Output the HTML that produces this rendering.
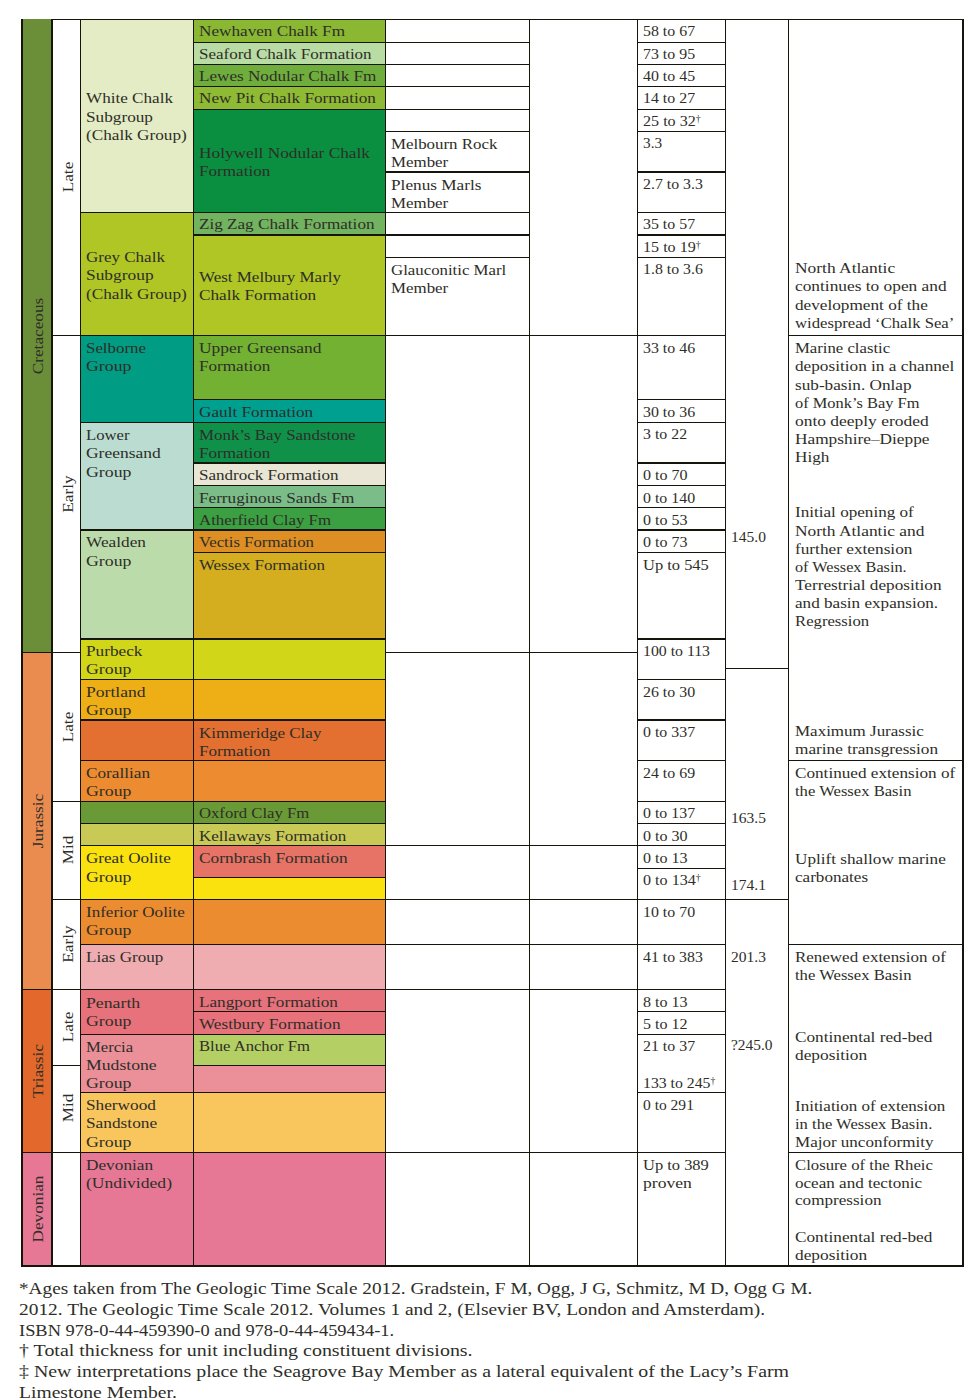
<!DOCTYPE html>
<html lang="en"><head><meta charset="utf-8"><title>Stratigraphy of the Wessex Basin</title>
<style>
html,body{margin:0;padding:0;background:#fff}
body{width:980px;height:1400px;position:relative;overflow:hidden;font-family:"Liberation Serif",serif;color:#2e2e28}
.t{font-size:15.5px;position:absolute;white-space:nowrap;transform-origin:0 0;margin:0;line-height:20px}
.r{font-size:15.5px;position:absolute;white-space:nowrap;line-height:1;transform-origin:50% 50%}
sup{font-size:62%;vertical-align:baseline;position:relative;top:-0.45em;line-height:0}
</style></head><body>
<svg width="980" height="1400" viewBox="0 0 980 1400" shape-rendering="crispEdges" style="position:absolute;left:0;top:0">
<rect x="23" y="19" width="28" height="633" fill="#6b8e39"/>
<rect x="23" y="652" width="28" height="337" fill="#ea8c50"/>
<rect x="23" y="989" width="28" height="163" fill="#e2692b"/>
<rect x="23" y="1152" width="28" height="113" fill="#e67895"/>
<rect x="81" y="19" width="112" height="193" fill="#e3ecc4"/>
<rect x="81" y="212" width="112" height="123" fill="#afc625"/>
<rect x="81" y="335" width="112" height="87" fill="#009c83"/>
<rect x="81" y="422" width="112" height="107" fill="#badcd1"/>
<rect x="81" y="529" width="112" height="109" fill="#bcdbab"/>
<rect x="81" y="638" width="112" height="41" fill="#d2d618"/>
<rect x="81" y="679" width="112" height="40" fill="#eeaf16"/>
<rect x="81" y="719" width="112" height="41" fill="#e36f31"/>
<rect x="81" y="760" width="112" height="41" fill="#ec8b30"/>
<rect x="81" y="801" width="112" height="22" fill="#6a9a35"/>
<rect x="81" y="823" width="112" height="22" fill="#c9c956"/>
<rect x="81" y="845" width="112" height="54" fill="#f9e20e"/>
<rect x="81" y="899" width="112" height="45" fill="#ec8c30"/>
<rect x="81" y="944" width="112" height="45" fill="#efadb2"/>
<rect x="81" y="989" width="112" height="45" fill="#e7727b"/>
<rect x="81" y="1034" width="112" height="58" fill="#eb8f98"/>
<rect x="81" y="1092" width="112" height="60" fill="#f9c55d"/>
<rect x="81" y="1152" width="112" height="113" fill="#e67895"/>
<rect x="194" y="19" width="191" height="23" fill="#8ab833"/>
<rect x="194" y="42" width="191" height="22" fill="#b9dba4"/>
<rect x="194" y="64" width="191" height="22" fill="#6fae3d"/>
<rect x="194" y="86" width="191" height="23" fill="#8fbb34"/>
<rect x="194" y="109" width="191" height="103" fill="#0a8f40"/>
<rect x="194" y="212" width="191" height="22" fill="#72b360"/>
<rect x="194" y="234" width="191" height="101" fill="#afc625"/>
<rect x="194" y="335" width="191" height="64" fill="#72b132"/>
<rect x="194" y="399" width="191" height="23" fill="#00a091"/>
<rect x="194" y="422" width="191" height="40" fill="#0f914a"/>
<rect x="194" y="462" width="191" height="23" fill="#e9e6d5"/>
<rect x="194" y="485" width="191" height="22" fill="#7abd88"/>
<rect x="194" y="507" width="191" height="22" fill="#3ba041"/>
<rect x="194" y="529" width="191" height="23" fill="#de8f24"/>
<rect x="194" y="552" width="191" height="86" fill="#d4ae1f"/>
<rect x="194" y="638" width="191" height="41" fill="#d2d618"/>
<rect x="194" y="679" width="191" height="40" fill="#eeaf16"/>
<rect x="194" y="719" width="191" height="41" fill="#e36f31"/>
<rect x="194" y="760" width="191" height="41" fill="#ec8b30"/>
<rect x="194" y="801" width="191" height="22" fill="#6a9a35"/>
<rect x="194" y="823" width="191" height="22" fill="#c9c956"/>
<rect x="194" y="845" width="191" height="32" fill="#e67365"/>
<rect x="194" y="877" width="191" height="22" fill="#f9e20e"/>
<rect x="194" y="899" width="191" height="45" fill="#ec8c30"/>
<rect x="194" y="944" width="191" height="45" fill="#efadb2"/>
<rect x="194" y="989" width="191" height="22" fill="#e7727b"/>
<rect x="194" y="1011" width="191" height="23" fill="#e7727b"/>
<rect x="194" y="1034" width="191" height="31" fill="#b4cf63"/>
<rect x="194" y="1065" width="191" height="27" fill="#eb8f98"/>
<rect x="194" y="1092" width="191" height="60" fill="#f9c55d"/>
<rect x="194" y="1152" width="191" height="113" fill="#e67895"/>
<g fill="#15150c">
<rect x="21" y="652" width="32" height="1"/>
<rect x="21" y="989" width="32" height="1"/>
<rect x="21" y="1152" width="32" height="1"/>
<rect x="51" y="335" width="30" height="1"/>
<rect x="51" y="652" width="30" height="1"/>
<rect x="51" y="801" width="30" height="1"/>
<rect x="51" y="899" width="30" height="1"/>
<rect x="51" y="989" width="30" height="1"/>
<rect x="51" y="1065" width="30" height="1"/>
<rect x="51" y="1152" width="30" height="1"/>
<rect x="80" y="212" width="114" height="1"/>
<rect x="80" y="335" width="114" height="1"/>
<rect x="80" y="422" width="114" height="1"/>
<rect x="80" y="529" width="114" height="2"/>
<rect x="80" y="638" width="114" height="2"/>
<rect x="80" y="679" width="114" height="1"/>
<rect x="80" y="719" width="114" height="1.6"/>
<rect x="80" y="760" width="114" height="1"/>
<rect x="80" y="801" width="114" height="1"/>
<rect x="80" y="823" width="114" height="1"/>
<rect x="80" y="845" width="114" height="1"/>
<rect x="80" y="899" width="114" height="1"/>
<rect x="80" y="944" width="114" height="1"/>
<rect x="80" y="989" width="114" height="1"/>
<rect x="80" y="1034" width="114" height="1"/>
<rect x="80" y="1092" width="114" height="1"/>
<rect x="80" y="1152" width="114" height="1"/>
<rect x="193" y="42" width="193" height="1"/>
<rect x="193" y="64" width="193" height="1"/>
<rect x="193" y="86" width="193" height="1"/>
<rect x="193" y="109" width="193" height="1"/>
<rect x="193" y="212" width="193" height="1"/>
<rect x="193" y="234" width="193" height="2"/>
<rect x="193" y="335" width="193" height="1"/>
<rect x="193" y="399" width="193" height="1"/>
<rect x="193" y="422" width="193" height="1"/>
<rect x="193" y="462" width="193" height="2"/>
<rect x="193" y="485" width="193" height="1"/>
<rect x="193" y="507" width="193" height="1"/>
<rect x="193" y="529" width="193" height="2"/>
<rect x="193" y="552" width="193" height="1"/>
<rect x="193" y="638" width="193" height="2"/>
<rect x="193" y="679" width="193" height="1"/>
<rect x="193" y="719" width="193" height="1.6"/>
<rect x="193" y="760" width="193" height="1"/>
<rect x="193" y="801" width="193" height="1"/>
<rect x="193" y="823" width="193" height="1"/>
<rect x="193" y="845" width="193" height="1"/>
<rect x="193" y="877" width="193" height="1"/>
<rect x="193" y="899" width="193" height="1"/>
<rect x="193" y="944" width="193" height="1"/>
<rect x="193" y="989" width="193" height="1"/>
<rect x="193" y="1011" width="193" height="1"/>
<rect x="193" y="1034" width="193" height="1"/>
<rect x="193" y="1065" width="193" height="1"/>
<rect x="193" y="1092" width="193" height="1"/>
<rect x="193" y="1152" width="193" height="1"/>
<rect x="385" y="42" width="145" height="1"/>
<rect x="385" y="64" width="145" height="1"/>
<rect x="385" y="86" width="145" height="1"/>
<rect x="385" y="109" width="145" height="1"/>
<rect x="385" y="131" width="145" height="1"/>
<rect x="385" y="171" width="145" height="2"/>
<rect x="385" y="212" width="145" height="1"/>
<rect x="385" y="234" width="145" height="2"/>
<rect x="385" y="257" width="145" height="1"/>
<rect x="385" y="335" width="145" height="1"/>
<rect x="385" y="652" width="145" height="1"/>
<rect x="385" y="845" width="145" height="1"/>
<rect x="385" y="899" width="145" height="1"/>
<rect x="385" y="944" width="145" height="1"/>
<rect x="385" y="989" width="145" height="1"/>
<rect x="385" y="1152" width="145" height="1"/>
<rect x="529" y="335" width="109" height="1"/>
<rect x="529" y="652" width="109" height="1"/>
<rect x="529" y="845" width="109" height="1"/>
<rect x="529" y="899" width="109" height="1"/>
<rect x="529" y="944" width="109" height="1"/>
<rect x="529" y="989" width="109" height="1"/>
<rect x="529" y="1152" width="109" height="1"/>
<rect x="637" y="42" width="89" height="1"/>
<rect x="637" y="64" width="89" height="1"/>
<rect x="637" y="86" width="89" height="1"/>
<rect x="637" y="109" width="89" height="1"/>
<rect x="637" y="131" width="89" height="1"/>
<rect x="637" y="171" width="89" height="2"/>
<rect x="637" y="212" width="89" height="1"/>
<rect x="637" y="234" width="89" height="2"/>
<rect x="637" y="257" width="89" height="1"/>
<rect x="637" y="335" width="89" height="1"/>
<rect x="637" y="399" width="89" height="1"/>
<rect x="637" y="422" width="89" height="1"/>
<rect x="637" y="462" width="89" height="2"/>
<rect x="637" y="485" width="89" height="1"/>
<rect x="637" y="507" width="89" height="1"/>
<rect x="637" y="529" width="89" height="2"/>
<rect x="637" y="552" width="89" height="1"/>
<rect x="637" y="638" width="89" height="2"/>
<rect x="637" y="679" width="89" height="1"/>
<rect x="637" y="719" width="89" height="1.6"/>
<rect x="637" y="760" width="89" height="1"/>
<rect x="637" y="801" width="89" height="1"/>
<rect x="637" y="823" width="89" height="1"/>
<rect x="637" y="845" width="89" height="1"/>
<rect x="637" y="867.5" width="89" height="1"/>
<rect x="637" y="899" width="89" height="1"/>
<rect x="637" y="944" width="89" height="1"/>
<rect x="637" y="989" width="89" height="1"/>
<rect x="637" y="1011" width="89" height="1"/>
<rect x="637" y="1034" width="89" height="1"/>
<rect x="637" y="1092" width="89" height="1"/>
<rect x="637" y="1152" width="89" height="1"/>
<rect x="725" y="668" width="64" height="1"/>
<rect x="725" y="899" width="64" height="1"/>
<rect x="788" y="335" width="176" height="1"/>
<rect x="788" y="760" width="176" height="1"/>
<rect x="788" y="944" width="176" height="1"/>
<rect x="788" y="1152" width="176" height="1"/>
<rect x="21" y="19" width="2" height="1248"/>
<rect x="51" y="19" width="2" height="1248"/>
<rect x="80" y="19" width="1" height="1248"/>
<rect x="193" y="19" width="1" height="1248"/>
<rect x="385" y="19" width="1" height="1248"/>
<rect x="529" y="19" width="1" height="1248"/>
<rect x="637" y="19" width="1" height="1248"/>
<rect x="725" y="19" width="1" height="1248"/>
<rect x="788" y="19" width="1" height="1248"/>
<rect x="962" y="19" width="2" height="1248"/>
<rect x="51" y="19" width="913" height="1"/>
<rect x="21" y="1265" width="943" height="2"/>
</g></svg>
<div class="t" style="left:85.9px;top:88px;transform:scaleX(1.1043)">White Chalk</div>
<div class="t" style="left:85.9px;top:107px;transform:scaleX(1.1112)">Subgroup</div>
<div class="t" style="left:85.9px;top:125px;transform:scaleX(1.1098)">(Chalk Group)</div>
<div class="t" style="left:85.9px;top:247px;transform:scaleX(1.0975)">Grey Chalk</div>
<div class="t" style="left:85.9px;top:265px;transform:scaleX(1.1211)">Subgroup</div>
<div class="t" style="left:85.9px;top:284px;transform:scaleX(1.1098)">(Chalk Group)</div>
<div class="t" style="left:85.9px;top:338px;transform:scaleX(1.0887)">Selborne</div>
<div class="t" style="left:85.9px;top:356px;transform:scaleX(1.1462)">Group</div>
<div class="t" style="left:85.9px;top:425px;transform:scaleX(1.0753)">Lower</div>
<div class="t" style="left:85.9px;top:443px;transform:scaleX(1.1270)">Greensand</div>
<div class="t" style="left:85.9px;top:462px;transform:scaleX(1.1462)">Group</div>
<div class="t" style="left:85.9px;top:532px;transform:scaleX(1.1143)">Wealden</div>
<div class="t" style="left:85.9px;top:551px;transform:scaleX(1.1462)">Group</div>
<div class="t" style="left:85.9px;top:641px;transform:scaleX(1.1123)">Purbeck</div>
<div class="t" style="left:85.9px;top:659px;transform:scaleX(1.1462)">Group</div>
<div class="t" style="left:85.9px;top:682px;transform:scaleX(1.1346)">Portland</div>
<div class="t" style="left:85.9px;top:700px;transform:scaleX(1.1462)">Group</div>
<div class="t" style="left:85.9px;top:763px;transform:scaleX(1.1112)">Corallian</div>
<div class="t" style="left:85.9px;top:781px;transform:scaleX(1.1462)">Group</div>
<div class="t" style="left:85.9px;top:848px;transform:scaleX(1.1006)">Great Oolite</div>
<div class="t" style="left:85.9px;top:867px;transform:scaleX(1.1462)">Group</div>
<div class="t" style="left:85.9px;top:902px;transform:scaleX(1.0995)">Inferior Oolite</div>
<div class="t" style="left:85.9px;top:920px;transform:scaleX(1.1462)">Group</div>
<div class="t" style="left:85.9px;top:947px;transform:scaleX(1.1016)">Lias Group</div>
<div class="t" style="left:85.9px;top:993px;transform:scaleX(1.1444)">Penarth</div>
<div class="t" style="left:85.9px;top:1011px;transform:scaleX(1.1462)">Group</div>
<div class="t" style="left:85.9px;top:1037px;transform:scaleX(1.0731)">Mercia</div>
<div class="t" style="left:85.9px;top:1055px;transform:scaleX(1.1403)">Mudstone</div>
<div class="t" style="left:85.9px;top:1073px;transform:scaleX(1.1462)">Group</div>
<div class="t" style="left:85.9px;top:1095px;transform:scaleX(1.1120)">Sherwood</div>
<div class="t" style="left:85.9px;top:1113px;transform:scaleX(1.1158)">Sandstone</div>
<div class="t" style="left:85.9px;top:1132px;transform:scaleX(1.1462)">Group</div>
<div class="t" style="left:85.9px;top:1155px;transform:scaleX(1.1134)">Devonian</div>
<div class="t" style="left:85.9px;top:1173px;transform:scaleX(1.1351)">(Undivided)</div>
<div class="t" style="left:198.7px;top:21px;transform:scaleX(1.1083)">Newhaven Chalk Fm</div>
<div class="t" style="left:198.7px;top:44px;transform:scaleX(1.0954)">Seaford Chalk Formation</div>
<div class="t" style="left:198.7px;top:66px;transform:scaleX(1.1048)">Lewes Nodular Chalk Fm</div>
<div class="t" style="left:198.7px;top:88px;transform:scaleX(1.1075)">New Pit Chalk Formation</div>
<div class="t" style="left:198.7px;top:143px;transform:scaleX(1.1157)">Holywell Nodular Chalk</div>
<div class="t" style="left:198.7px;top:161px;transform:scaleX(1.1038)">Formation</div>
<div class="t" style="left:198.7px;top:214px;transform:scaleX(1.1048)">Zig Zag Chalk Formation</div>
<div class="t" style="left:198.7px;top:267px;transform:scaleX(1.0955)">West Melbury Marly</div>
<div class="t" style="left:198.7px;top:285px;transform:scaleX(1.1111)">Chalk Formation</div>
<div class="t" style="left:198.7px;top:338px;transform:scaleX(1.1241)">Upper Greensand</div>
<div class="t" style="left:198.7px;top:356px;transform:scaleX(1.1038)">Formation</div>
<div class="t" style="left:198.7px;top:402px;transform:scaleX(1.1097)">Gault Formation</div>
<div class="t" style="left:198.7px;top:425px;transform:scaleX(1.0889)">Monk’s Bay Sandstone</div>
<div class="t" style="left:198.7px;top:443px;transform:scaleX(1.1038)">Formation</div>
<div class="t" style="left:198.7px;top:465px;transform:scaleX(1.0992)">Sandrock Formation</div>
<div class="t" style="left:198.7px;top:488px;transform:scaleX(1.1070)">Ferruginous Sands Fm</div>
<div class="t" style="left:198.7px;top:510px;transform:scaleX(1.0881)">Atherfield Clay Fm</div>
<div class="t" style="left:198.7px;top:532px;transform:scaleX(1.0805)">Vectis Formation</div>
<div class="t" style="left:198.7px;top:555px;transform:scaleX(1.0916)">Wessex Formation</div>
<div class="t" style="left:198.7px;top:723px;transform:scaleX(1.0978)">Kimmeridge Clay</div>
<div class="t" style="left:198.7px;top:741px;transform:scaleX(1.1038)">Formation</div>
<div class="t" style="left:198.7px;top:803px;transform:scaleX(1.0754)">Oxford Clay Fm</div>
<div class="t" style="left:198.7px;top:826px;transform:scaleX(1.0994)">Kellaways Formation</div>
<div class="t" style="left:198.7px;top:848px;transform:scaleX(1.1170)">Cornbrash Formation</div>
<div class="t" style="left:198.7px;top:992px;transform:scaleX(1.1087)">Langport Formation</div>
<div class="t" style="left:198.7px;top:1014px;transform:scaleX(1.1099)">Westbury Formation</div>
<div class="t" style="left:198.7px;top:1036px;transform:scaleX(1.0731)">Blue Anchor Fm</div>
<div class="t" style="left:390.8px;top:134px;transform:scaleX(1.0887)">Melbourn Rock</div>
<div class="t" style="left:390.8px;top:152px;transform:scaleX(1.0892)">Member</div>
<div class="t" style="left:390.8px;top:175px;transform:scaleX(1.1121)">Plenus Marls</div>
<div class="t" style="left:390.8px;top:193px;transform:scaleX(1.0892)">Member</div>
<div class="t" style="left:390.8px;top:260px;transform:scaleX(1.0844)">Glauconitic Marl</div>
<div class="t" style="left:390.8px;top:278px;transform:scaleX(1.0892)">Member</div>
<div class="t" style="left:643.2px;top:21px;transform:scaleX(1.0253)">58 to 67</div>
<div class="t" style="left:643.2px;top:44px;transform:scaleX(1.0253)">73 to 95</div>
<div class="t" style="left:643.2px;top:66px;transform:scaleX(1.0253)">40 to 45</div>
<div class="t" style="left:643.2px;top:88px;transform:scaleX(1.0253)">14 to 27</div>
<div class="t" style="left:643.2px;top:111px;transform:scaleX(1.0394)">25 to 32<sup>†</sup></div>
<div class="t" style="left:643.2px;top:133px;transform:scaleX(0.9858)">3.3</div>
<div class="t" style="left:643.2px;top:174px;transform:scaleX(1.0228)">2.7 to 3.3</div>
<div class="t" style="left:643.2px;top:214px;transform:scaleX(1.0253)">35 to 57</div>
<div class="t" style="left:643.2px;top:237px;transform:scaleX(1.0394)">15 to 19<sup>†</sup></div>
<div class="t" style="left:643.2px;top:259px;transform:scaleX(1.0228)">1.8 to 3.6</div>
<div class="t" style="left:643.2px;top:338px;transform:scaleX(1.0253)">33 to 46</div>
<div class="t" style="left:643.2px;top:402px;transform:scaleX(1.0253)">30 to 36</div>
<div class="t" style="left:643.2px;top:424px;transform:scaleX(1.0241)">3 to 22</div>
<div class="t" style="left:643.2px;top:465px;transform:scaleX(1.0357)">0 to 70</div>
<div class="t" style="left:643.2px;top:488px;transform:scaleX(1.0253)">0 to 140</div>
<div class="t" style="left:643.2px;top:510px;transform:scaleX(1.0357)">0 to 53</div>
<div class="t" style="left:643.2px;top:532px;transform:scaleX(1.0357)">0 to 73</div>
<div class="t" style="left:643.2px;top:555px;transform:scaleX(1.0613)">Up to 545</div>
<div class="t" style="left:643.2px;top:641px;transform:scaleX(1.0193)">100 to 113</div>
<div class="t" style="left:643.2px;top:682px;transform:scaleX(1.0253)">26 to 30</div>
<div class="t" style="left:643.2px;top:722px;transform:scaleX(1.0253)">0 to 337</div>
<div class="t" style="left:643.2px;top:763px;transform:scaleX(1.0253)">24 to 69</div>
<div class="t" style="left:643.2px;top:803px;transform:scaleX(1.0253)">0 to 137</div>
<div class="t" style="left:643.2px;top:826px;transform:scaleX(1.0357)">0 to 30</div>
<div class="t" style="left:643.2px;top:848px;transform:scaleX(1.0357)">0 to 13</div>
<div class="t" style="left:643.2px;top:870px;transform:scaleX(1.0394)">0 to 134<sup>†</sup></div>
<div class="t" style="left:643.2px;top:902px;transform:scaleX(1.0253)">10 to 70</div>
<div class="t" style="left:643.2px;top:947px;transform:scaleX(1.0228)">41 to 383</div>
<div class="t" style="left:643.2px;top:992px;transform:scaleX(1.0357)">8 to 13</div>
<div class="t" style="left:643.2px;top:1014px;transform:scaleX(1.0357)">5 to 12</div>
<div class="t" style="left:643.2px;top:1036px;transform:scaleX(1.0253)">21 to 37</div>
<div class="t" style="left:643.2px;top:1073px;transform:scaleX(1.0181)">133 to 245<sup>†</sup></div>
<div class="t" style="left:643.2px;top:1095px;transform:scaleX(1.0017)">0 to 291</div>
<div class="t" style="left:643.2px;top:1155px;transform:scaleX(1.0613)">Up to 389</div>
<div class="t" style="left:643.2px;top:1173px;transform:scaleX(1.1336)">proven</div>
<div class="t" style="left:731.0px;top:527px;transform:scaleX(1.0007)">145.0</div>
<div class="t" style="left:731.0px;top:808px;transform:scaleX(1.0007)">163.5</div>
<div class="t" style="left:731.0px;top:875px;transform:scaleX(1.0007)">174.1</div>
<div class="t" style="left:731.0px;top:947px;transform:scaleX(1.0007)">201.3</div>
<div class="t" style="left:731.0px;top:1035px;transform:scaleX(0.9936)">?245.0</div>
<div class="t" style="left:794.5px;top:258px;transform:scaleX(1.1243)">North Atlantic</div>
<div class="t" style="left:794.5px;top:276px;transform:scaleX(1.1179)">continues to open and</div>
<div class="t" style="left:794.5px;top:295px;transform:scaleX(1.1098)">development of the</div>
<div class="t" style="left:794.5px;top:313px;transform:scaleX(1.0759)">widespread ‘Chalk Sea’</div>
<div class="t" style="left:794.5px;top:338px;transform:scaleX(1.0778)">Marine clastic</div>
<div class="t" style="left:794.5px;top:356px;transform:scaleX(1.1113)">deposition in a channel</div>
<div class="t" style="left:794.5px;top:375px;transform:scaleX(1.1090)">sub-basin. Onlap</div>
<div class="t" style="left:794.5px;top:393px;transform:scaleX(1.0590)">of Monk’s Bay Fm</div>
<div class="t" style="left:794.5px;top:411px;transform:scaleX(1.1246)">onto deeply eroded</div>
<div class="t" style="left:794.5px;top:429px;transform:scaleX(1.1159)">Hampshire–Dieppe</div>
<div class="t" style="left:794.5px;top:447px;transform:scaleX(1.1065)">High</div>
<div class="t" style="left:794.5px;top:502px;transform:scaleX(1.1038)">Initial opening of</div>
<div class="t" style="left:794.5px;top:521px;transform:scaleX(1.1216)">North Atlantic and</div>
<div class="t" style="left:794.5px;top:539px;transform:scaleX(1.1133)">further extension</div>
<div class="t" style="left:794.5px;top:557px;transform:scaleX(1.0476)">of Wessex Basin.</div>
<div class="t" style="left:794.5px;top:575px;transform:scaleX(1.1105)">Terrestrial deposition</div>
<div class="t" style="left:794.5px;top:593px;transform:scaleX(1.1044)">and basin expansion.</div>
<div class="t" style="left:794.5px;top:611px;transform:scaleX(1.0771)">Regression</div>
<div class="t" style="left:794.5px;top:721px;transform:scaleX(1.0959)">Maximum Jurassic</div>
<div class="t" style="left:794.5px;top:739px;transform:scaleX(1.1119)">marine transgression</div>
<div class="t" style="left:794.5px;top:763px;transform:scaleX(1.1075)">Continued extension of</div>
<div class="t" style="left:794.5px;top:781px;transform:scaleX(1.0719)">the Wessex Basin</div>
<div class="t" style="left:794.5px;top:849px;transform:scaleX(1.1086)">Uplift shallow marine</div>
<div class="t" style="left:794.5px;top:867px;transform:scaleX(1.1029)">carbonates</div>
<div class="t" style="left:794.5px;top:947px;transform:scaleX(1.0947)">Renewed extension of</div>
<div class="t" style="left:794.5px;top:965px;transform:scaleX(1.0719)">the Wessex Basin</div>
<div class="t" style="left:794.5px;top:1027px;transform:scaleX(1.1115)">Continental red-bed</div>
<div class="t" style="left:794.5px;top:1045px;transform:scaleX(1.1178)">deposition</div>
<div class="t" style="left:794.5px;top:1096px;transform:scaleX(1.0972)">Initiation of extension</div>
<div class="t" style="left:794.5px;top:1114px;transform:scaleX(1.0686)">in the Wessex Basin.</div>
<div class="t" style="left:794.5px;top:1132px;transform:scaleX(1.0980)">Major unconformity</div>
<div class="t" style="left:794.5px;top:1155px;transform:scaleX(1.0785)">Closure of the Rheic</div>
<div class="t" style="left:794.5px;top:1173px;transform:scaleX(1.1021)">ocean and tectonic</div>
<div class="t" style="left:794.5px;top:1190px;transform:scaleX(1.1039)">compression</div>
<div class="t" style="left:794.5px;top:1227px;transform:scaleX(1.1115)">Continental red-bed</div>
<div class="t" style="left:794.5px;top:1245px;transform:scaleX(1.1178)">deposition</div>
<div class="t" style="left:19.3px;top:1279px;font-size:17.2px;transform:scaleX(1.1197)">*Ages taken from The Geologic Time Scale 2012. Gradstein, F M, Ogg, J G, Schmitz, M D, Ogg G M.</div>
<div class="t" style="left:19.3px;top:1300px;font-size:17.2px;transform:scaleX(1.1290)">2012. The Geologic Time Scale 2012. Volumes 1 and 2, (Elsevier BV, London and Amsterdam).</div>
<div class="t" style="left:19.3px;top:1321px;font-size:17.2px;transform:scaleX(1.0705)">ISBN 978-0-44-459390-0 and 978-0-44-459434-1.</div>
<div class="t" style="left:19.3px;top:1341px;font-size:17.2px;transform:scaleX(1.1604)">† Total thickness for unit including constituent divisions.</div>
<div class="t" style="left:19.3px;top:1362px;font-size:17.2px;transform:scaleX(1.1567)">‡ New interpretations place the Seagrove Bay Member as a lateral equivalent of the Lacy’s Farm</div>
<div class="t" style="left:19.3px;top:1383px;font-size:17.2px;transform:scaleX(1.1406)">Limestone Member.</div>
<div class="r" style="left:38.3px;top:336.0px;transform:translate(-50%,-50%) rotate(-90deg) scaleX(1.1124)">Cretaceous</div>
<div class="r" style="left:38.3px;top:820.7px;transform:translate(-50%,-50%) rotate(-90deg) scaleX(1.1100)">Jurassic</div>
<div class="r" style="left:38.3px;top:1070.5px;transform:translate(-50%,-50%) rotate(-90deg) scaleX(1.1100)">Triassic</div>
<div class="r" style="left:38.3px;top:1209.0px;transform:translate(-50%,-50%) rotate(-90deg) scaleX(1.1100)">Devonian</div>
<div class="r" style="left:68.0px;top:177.3px;transform:translate(-50%,-50%) rotate(-90deg) scaleX(1.1100)">Late</div>
<div class="r" style="left:68.0px;top:494.0px;transform:translate(-50%,-50%) rotate(-90deg) scaleX(1.1100)">Early</div>
<div class="r" style="left:68.0px;top:726.9px;transform:translate(-50%,-50%) rotate(-90deg) scaleX(1.1100)">Late</div>
<div class="r" style="left:68.0px;top:850.2px;transform:translate(-50%,-50%) rotate(-90deg) scaleX(1.1100)">Mid</div>
<div class="r" style="left:68.0px;top:944.0px;transform:translate(-50%,-50%) rotate(-90deg) scaleX(1.1100)">Early</div>
<div class="r" style="left:68.0px;top:1026.8px;transform:translate(-50%,-50%) rotate(-90deg) scaleX(1.1100)">Late</div>
<div class="r" style="left:68.0px;top:1108.3px;transform:translate(-50%,-50%) rotate(-90deg) scaleX(1.1100)">Mid</div>
</body></html>
